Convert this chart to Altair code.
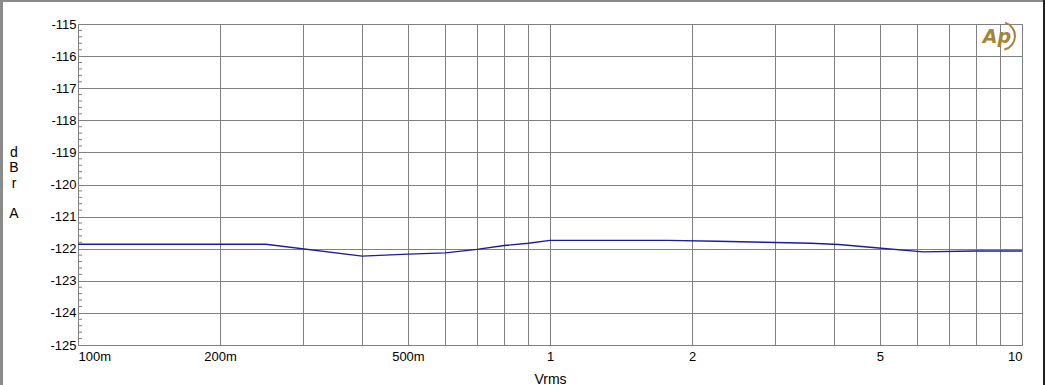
import altair as alt
import pandas as pd

# Curve (Vrms, dBr A)
vrms = [0.1, 0.25, 0.4, 0.5, 0.6, 0.7, 0.8, 0.9, 1.0, 1.78, 2.26, 2.84, 3.57, 4.09, 4.9, 6.17, 8.0, 10.0]
dbr = [-121.86, -121.86, -122.23, -122.17, -122.13, -122.02, -121.90, -121.83, -121.74,
       -121.74, -121.77, -121.80, -121.83, -121.87, -121.97, -122.10, -122.07, -122.07]

x_grid = [0.1, 0.2, 0.3, 0.4, 0.5, 0.6, 0.7, 0.8, 0.9, 1, 2, 3, 4, 5, 6, 7, 8, 9, 10]
x_label_values = [0.1, 0.2, 0.5, 1, 2, 5, 10]
x_label_texts = ["100m", "200m", "500m", "1", "2", "5", "10"]
y_ticks = [-125, -124, -123, -122, -121, -120, -119, -118, -117, -116, -115]
y_minor = [round(-125 + 0.2 * i, 1) for i in range(51) if i % 5]
y_title_letters = ["d", "B", "r", "A"]

FONT = "Liberation Sans"
GRID = "#808080"

df = pd.DataFrame({"Vrms": vrms, "dBr": dbr})
minor_df = pd.DataFrame({"Vrms": [0.1] * len(y_minor), "dBr": y_minor})
one = pd.DataFrame({"a": [0]})

label_expr = " : ".join(
    f"datum.value == {v} ? '{t}'" for v, t in zip(x_label_values, x_label_texts)
) + " : ''"

x_enc = alt.X(
    "Vrms:Q",
    scale=alt.Scale(type="log", domain=[0.1, 10], nice=False),
    axis=alt.Axis(
        values=x_grid, labelExpr=label_expr, grid=True, ticks=False, domain=False,
        labelFlush=True, labelOverlap=False, labelPadding=5,
        labelFont=FONT, labelFontSize=13, labelColor="black",
        title="Vrms", titleFont=FONT, titleFontSize=14, titleFontWeight="normal",
        titleColor="black", titleY=38, titleBaseline="alphabetic",
    ),
)
y_enc = alt.Y(
    "dBr:Q",
    scale=alt.Scale(domain=[-125, -115], nice=False, zero=False),
    axis=alt.Axis(
        values=y_ticks, labelExpr="'' + datum.value", grid=True, ticks=False, domain=False,
        labelPadding=2, labelFont=FONT, labelFontSize=13, labelColor="black",
        title=None,
    ),
)

line = alt.Chart(df).mark_line(color="#1c1ca0", strokeWidth=1.4).encode(x=x_enc, y=y_enc)

minor = alt.Chart(minor_df).mark_rule(color=GRID, strokeWidth=1).encode(
    y=y_enc, x=alt.value(0), x2=alt.value(4)
)

title_offsets = [129, 144, 160, 190]
y_title_layers = [
    alt.Chart(one).mark_text(
        text=ch, font=FONT, fontSize=14, color="black", align="center", baseline="middle",
    ).encode(x=alt.value(-64), y=alt.value(off))
    for ch, off in zip(y_title_letters, title_offsets)
]

frame_left = alt.Chart(one).mark_rule(color="#8a8a8a", strokeWidth=3).encode(
    x=alt.value(-76.5), y=alt.value(-24), y2=alt.value(361)
)
frame_top = alt.Chart(one).mark_rule(color="#8a8a8a", strokeWidth=2).encode(
    y=alt.value(-23), x=alt.value(-78), x2=alt.value(967)
)
frame_right = alt.Chart(one).mark_rule(color="#202020", strokeWidth=2).encode(
    x=alt.value(966), y=alt.value(-24), y2=alt.value(361)
)

logo_text = alt.Chart(one).mark_text(
    text="Ap", color="#a2843a", font="DejaVu Sans", fontStyle="italic",
    fontWeight="bold", fontSize=19, align="center", baseline="middle",
).encode(x=alt.value(919), y=alt.value(13))
logo_arc = alt.Chart(one).mark_arc(
    radius=15, radius2=13, theta=0.3, theta2=2.9, color="#a2843a"
).encode(x=alt.value(923), y=alt.value(12))

chart = alt.layer(
    minor, line, *y_title_layers, logo_arc, logo_text, frame_left, frame_top, frame_right
).properties(
    width=944, height=321,
    autosize=alt.AutoSizeParams(type="none"),
    padding={"left": 78, "top": 24, "right": 23, "bottom": 40},
    background="white",
).configure_view(
    stroke=GRID, strokeWidth=1
).configure_axis(
    gridColor=GRID, gridOpacity=1, gridWidth=1
)

chart.save("out.html", embed_options={"renderer": "svg", "actions": False})
